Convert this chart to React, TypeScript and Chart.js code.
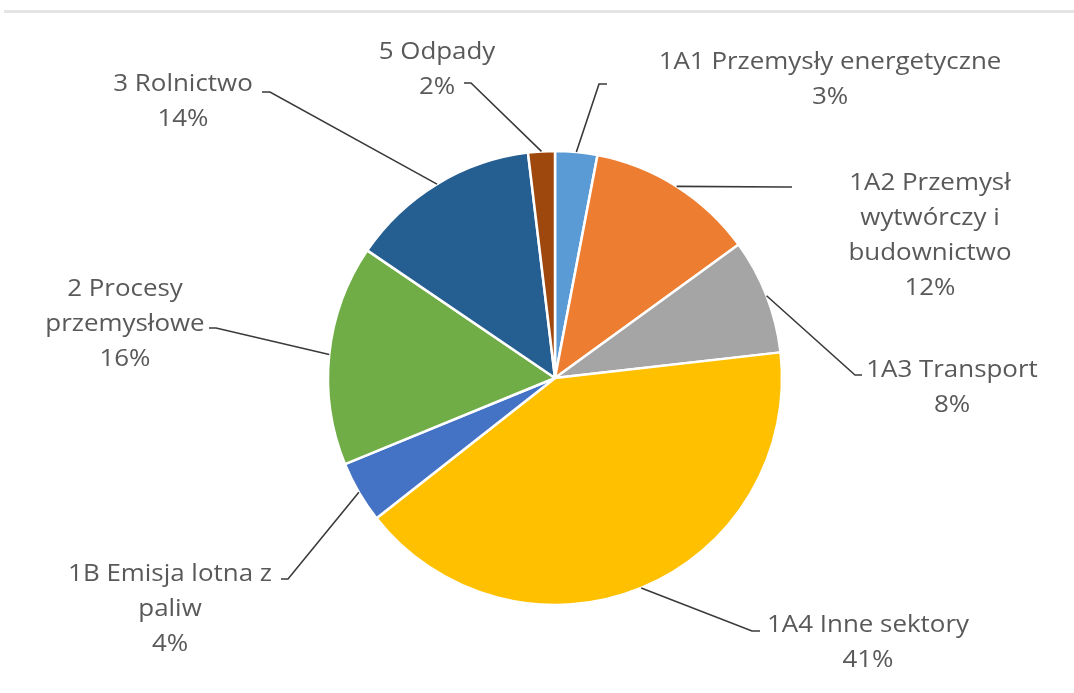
import React, { useEffect, useRef } from "react";
import { Chart, registerables } from "chart.js";

Chart.register(...registerables);

const categories: string[][] = [
  ["1A1 Przemysły energetyczne"],
  ["1A2 Przemysł", "wytwórczy i", "budownictwo"],
  ["1A3 Transport"],
  ["1A4 Inne sektory"],
  ["1B Emisja lotna z", "paliw"],
  ["2 Procesy", "przemysłowe"],
  ["3 Rolnictwo"],
  ["5 Odpady"],
];

const shares: number[] = [3.0, 12.0, 8.2, 41.2, 4.4, 15.7, 13.6, 1.9];

const colors: string[] = [
  "#5B9BD5",
  "#ED7D31",
  "#A5A5A5",
  "#FFC000",
  "#4472C4",
  "#70AD47",
  "#255E91",
  "#9E480E",
];

// label layout: text block centre x, first line centre y, leader elbow and end
const labelLayout = [
  { cx: 830, y0: 62, elbow: [599, 84], end: [607, 84] },
  { cx: 930, y0: 183, elbow: [785, 187], end: [792, 187] },
  { cx: 952, y0: 370, elbow: [855, 375], end: [862, 375] },
  { cx: 868, y0: 625, elbow: [752, 631], end: [760, 631] },
  { cx: 170, y0: 574, elbow: [288, 579], end: [281, 579] },
  { cx: 125, y0: 289, elbow: [216, 328], end: [209, 328] },
  { cx: 183, y0: 84, elbow: [270, 92], end: [262, 92] },
  { cx: 437, y0: 52, elbow: [471, 83], end: [464, 83] },
];

const FONT_FAMILY = "'Open Sans', Lato, sans-serif";
const FONT_SIZE = 24;
const LINE_GAP = 35;
const TEXT_STRETCH = 1.08;

const labelPlugin = {
  id: "pieLabels",
  afterDraw(chart: any) {
    const ctx = chart.ctx;
    const meta = chart.getDatasetMeta(0);
    ctx.save();
    meta.data.forEach((arc: any, i: number) => {
      const lay = labelLayout[i];
      const { x, y, startAngle, endAngle, outerRadius } = arc.getProps(
        ["x", "y", "startAngle", "endAngle", "outerRadius"],
        true
      );
      const mid = (startAngle + endAngle) / 2;
      const sx = x + Math.cos(mid) * outerRadius;
      const sy = y + Math.sin(mid) * outerRadius;
      ctx.strokeStyle = "#3a3a3a";
      ctx.lineWidth = 1.6;
      ctx.beginPath();
      ctx.moveTo(sx, sy);
      ctx.lineTo(lay.elbow[0], lay.elbow[1]);
      ctx.lineTo(lay.end[0], lay.end[1]);
      ctx.stroke();

      const lines = [...categories[i], Math.round(shares[i]) + "%"];
      ctx.fillStyle = "#595959";
      ctx.font = `${FONT_SIZE}px ${FONT_FAMILY}`;
      ctx.textAlign = "center";
      ctx.textBaseline = "middle";
      lines.forEach((t, k) => {
        ctx.save();
        ctx.translate(lay.cx, lay.y0 + k * LINE_GAP);
        ctx.scale(TEXT_STRETCH, 1);
        ctx.fillText(t, 0, 0);
        ctx.restore();
      });
    });
    ctx.restore();
  },
};

export default function App() {
  const ref = useRef<HTMLCanvasElement>(null);
  useEffect(() => {
    if (!ref.current) return;
    const chart = new Chart(ref.current, {
      type: "pie",
      data: {
        labels: categories.map((c) => c.join(" ")),
        datasets: [
          {
            data: shares,
            backgroundColor: colors,
            borderColor: "#ffffff",
            borderWidth: 2.5,
            radius: 227,
          } as any,
        ],
      },
      options: {
        animation: false,
        responsive: true,
        maintainAspectRatio: false,
        layout: { padding: { left: 36, right: 0, top: 63, bottom: 0 } },
        plugins: {
          legend: { display: false },
          tooltip: { enabled: false },
        },
      },
      plugins: [labelPlugin],
    });
    return () => chart.destroy();
  }, []);

  return (
    <div
      style={{
        position: "fixed",
        left: 0,
        top: 0,
        width: 1074,
        height: 693,
        background: "#ffffff",
      }}
    >
      <div
        style={{
          position: "absolute",
          left: 4,
          top: 10,
          width: 1070,
          height: 3,
          background: "#e4e4e4",
        }}
      />
      <canvas ref={ref} style={{ width: 1074, height: 693 }} />
    </div>
  );
}
